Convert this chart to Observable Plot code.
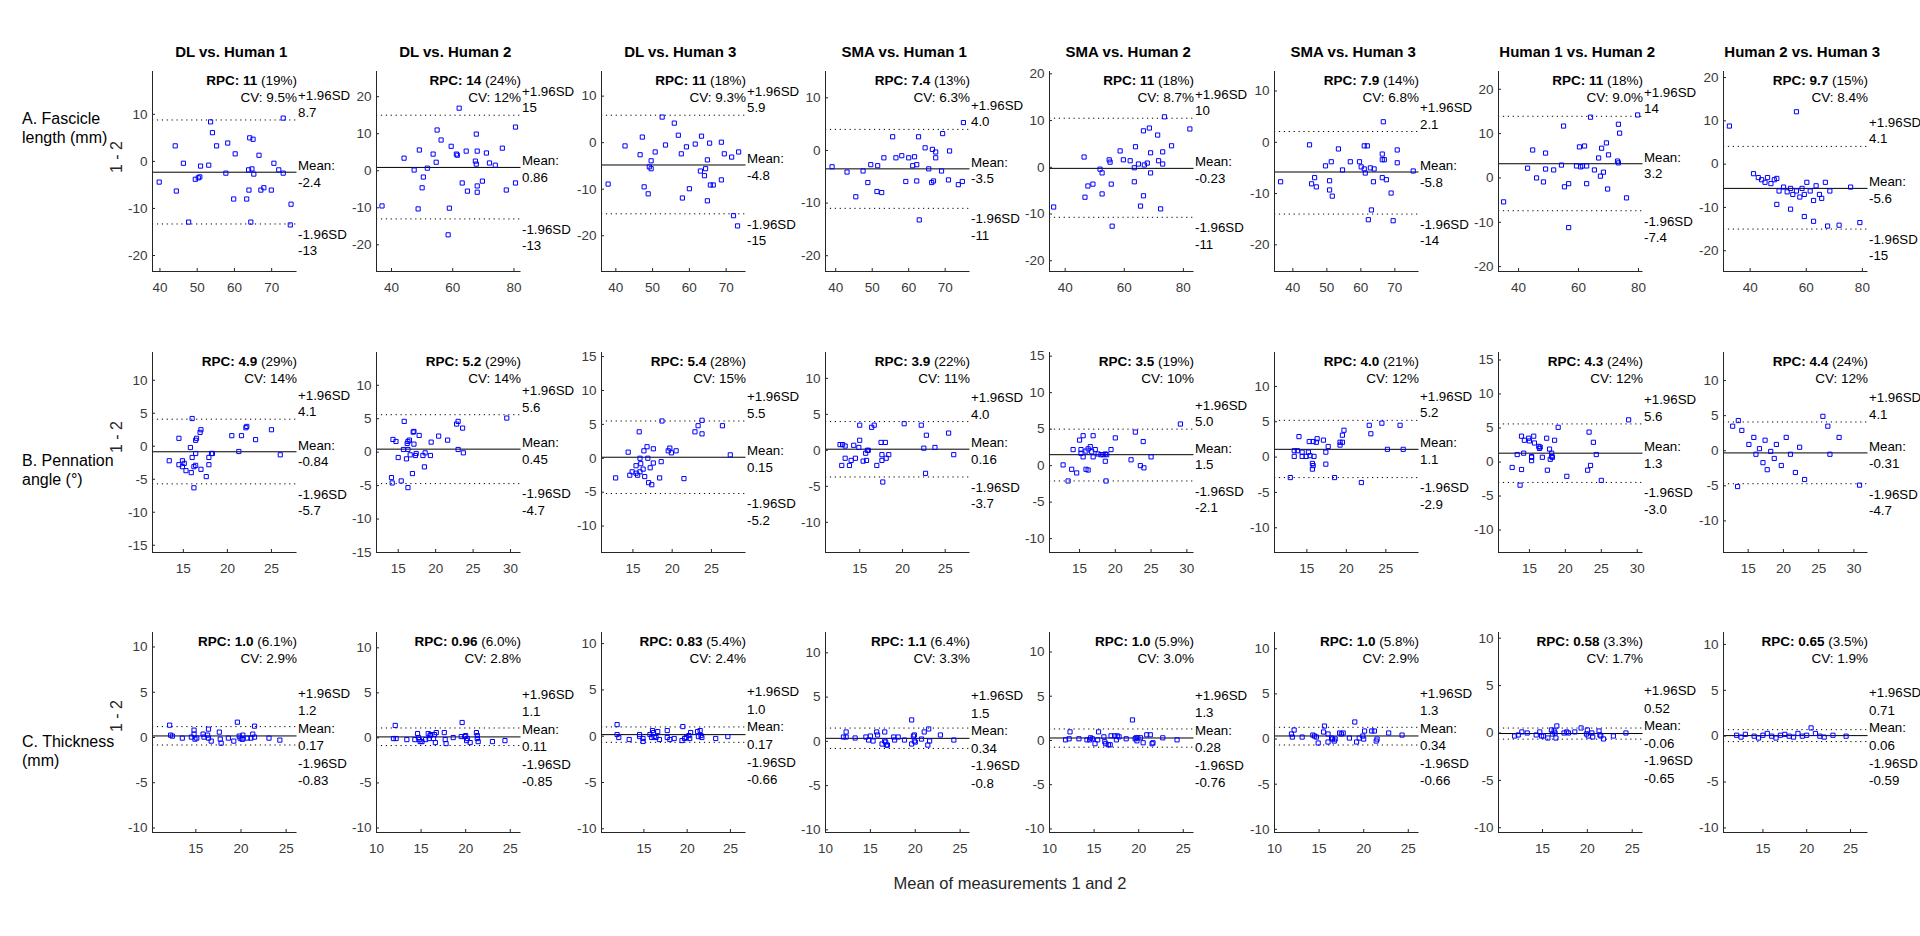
<!DOCTYPE html>
<html>
<head>
<meta charset="utf-8">
<script src="https://cdn.jsdelivr.net/npm/d3@7"></script>
<script src="https://cdn.jsdelivr.net/npm/@observablehq/plot@0.6"></script>
<style>
  body { margin: 0; background: #fff; }
  #fig { position: relative; width: 1920px; height: 936px; overflow: hidden; background: #fff;
         font-family: "Liberation Sans", Arial, Helvetica, sans-serif; }
  .lbl { position: absolute; white-space: nowrap; color: #000; }
</style>
</head>
<body>
<div id="fig"></div>
<script>
const FONT = '"Liberation Sans", Arial, Helvetica, sans-serif';

// ---------- text ----------
const comparisons = ["DL vs. Human 1", "DL vs. Human 2", "DL vs. Human 3", "SMA vs. Human 1",
                     "SMA vs. Human 2", "SMA vs. Human 3", "Human 1 vs. Human 2", "Human 2 vs. Human 3"];
const rowLabels = [["A. Fascicle", "length (mm)"], ["B. Pennation", "angle (°)"], ["C. Thickness", "(mm)"]];
const yLabel = "1 - 2";
const xLabel = "Mean of measurements 1 and 2";

const rpcText = [["11","14","11","7.4","11","7.9","11","9.7"],
                 ["4.9","5.2","5.4","3.9","3.5","4.0","4.3","4.4"],
                 ["1.0","0.96","0.83","1.1","1.0","1.0","0.58","0.65"]];
const rpcPct  = [["19%","24%","18%","13%","18%","14%","18%","15%"],
                 ["29%","29%","28%","22%","19%","21%","24%","24%"],
                 ["6.1%","6.0%","5.4%","6.4%","5.9%","5.8%","3.3%","3.5%"]];
const cvText  = [["9.5%","12%","9.3%","6.3%","8.7%","6.8%","9.0%","8.4%"],
                 ["14%","14%","15%","11%","10%","12%","12%","12%"],
                 ["2.9%","2.8%","2.4%","3.3%","3.0%","2.9%","1.7%","1.9%"]];
const upperLabel = [["8.7","15","5.9","4.0","10","2.1","14","4.1"],
                    ["4.1","5.6","5.5","4.0","5.0","5.2","5.6","4.1"],
                    ["1.2","1.1","1.0","1.5","1.3","1.3","0.52","0.71"]];
const meanLabel  = [["-2.4","0.86","-4.8","-3.5","-0.23","-5.8","3.2","-5.6"],
                    ["-0.84","0.45","0.15","0.16","1.5","1.1","1.3","-0.31"],
                    ["0.17","0.11","0.17","0.34","0.28","0.34","-0.06","0.06"]];
const lowerLabel = [["-13","-13","-15","-11","-11","-14","-7.4","-15"],
                    ["-5.7","-4.7","-5.2","-3.7","-2.1","-2.9","-3.0","-4.7"],
                    ["-0.83","-0.85","-0.66","-0.8","-0.76","-0.66","-0.65","-0.59"]];

// ---------- limits of agreement (values) ----------
const upperValue = [[8.8,15.0,5.9,4.0,10.5,2.1,13.9,4.1],
                    [4.1,5.6,5.5,4.0,5.0,5.2,5.6,4.1],
                    [1.2,1.1,1.0,1.5,1.3,1.3,0.52,0.71]];
const meanValue  = [[-2.3,0.9,-4.8,-3.5,-0.23,-5.8,3.2,-5.6],
                    [-0.84,0.45,0.15,0.16,1.5,1.1,1.3,-0.31],
                    [0.17,0.11,0.17,0.34,0.28,0.34,-0.06,0.06]];
const lowerValue = [[-13.3,-13.0,-15.3,-11,-10.7,-14.0,-7.4,-15],
                    [-5.7,-4.7,-5.2,-3.7,-2.1,-2.9,-3.0,-4.7],
                    [-0.83,-0.85,-0.66,-0.8,-0.76,-0.66,-0.65,-0.59]];

// ---------- axes ----------
const xDomains = [
  [[38.0,76.8],[35.1,82.3],[36.1,75.4],[37.2,76.8],[34.7,83.6],[34.6,77.1],[33.3,81.5],[30.5,82.0]],
  [[11.5,27.9],[12.1,31.4],[11.0,29.4],[11.0,27.9],[10.8,31.0],[10.9,29.2],[10.7,30.8],[11.5,32.0]],
  [[10.2,26.2],[10.0,26.2],[10.1,26.8],[10.0,26.1],[10.0,26.2],[10.0,26.2],[10.1,26.2],[10.5,27.0]]];
const yDomains = [
  [[-23.4,19.1],[-27.2,26.8],[-27.7,15.3],[-23.0,15.0],[-22.3,20.5],[-25.2,13.8],[-21.1,24.0],[-24.8,21.4]],
  [[-16.1,14.2],[-15.0,14.9],[-13.9,15.6],[-14.2,13.6],[-11.9,15.5],[-13.5,14.8],[-13.3,16.1],[-14.5,14.0]],
  [[-10.5,11.6],[-10.5,11.7],[-10.4,11.2],[-10.3,12.3],[-10.4,12.2],[-10.35,11.8],[-10.5,10.6],[-10.5,11.3]]];
const xTicks = [
  [[40,50,60,70],[40,60,80],[40,50,60,70],[40,50,60,70],[40,60,80],[40,50,60,70],[40,60,80],[40,60,80]],
  [[15,20,25],[15,20,25,30],[15,20,25],[15,20,25],[15,20,25,30],[15,20,25],[15,20,25,30],[15,20,25,30]],
  [[15,20,25],[10,15,20,25],[15,20,25],[10,15,20,25],[10,15,20,25],[10,15,20,25],[15,20,25],[15,20,25]]];
const yTicksRow = [[-20,-10,0,10,20], [-15,-10,-5,0,5,10,15], [-10,-5,0,5,10]];

// ---------- data: [mean of measurements, difference] ----------
const faDLH1 = [[39.8,-4.4],[44.1,3.3],[44.4,-6.3],[46.3,-0.4],[47.7,-12.9],[49.5,-3.8],[50.3,-3.5],[50.7,-3.3],[50.9,-1.0],[53.1,-0.8],[53.6,8.4],[54.1,6.1],[55.2,3.3],[57.7,-2.5],[58.2,3.9],[59.8,-8.0],[60.2,1.6],[63.3,-8.0],[63.8,-1.8],[63.9,-6.1],[64.1,5.0],[64.4,-12.9],[64.7,-1.6],[65.0,4.7],[65.2,-2.7],[66.6,1.3],[67.1,-6.1],[67.9,-5.6],[69.9,-6.1],[70.6,-0.4],[71.9,-1.8],[73.1,9.2],[73.1,-2.5],[75.0,-13.5],[75.2,-9.1]];
const faDLH2 = [[36.9,-9.5],[44.1,3.4],[47.4,0.2],[48.7,-10.3],[49.1,5.6],[50.0,-4.6],[50.4,-1.7],[51.7,0.7],[53.6,4.5],[54.6,2.3],[54.9,11.0],[56.2,8.3],[58.5,-17.3],[58.9,-10.1],[59.5,6.6],[61.2,4.5],[61.5,4.2],[62.1,16.9],[63.1,-3.3],[64.4,5.3],[64.8,-5.5],[67.4,2.6],[67.7,1.8],[67.7,9.9],[68.0,-4.1],[68.0,-5.8],[68.0,5.3],[69.7,-2.8],[71.0,4.8],[72.0,2.1],[73.9,1.5],[76.2,6.1],[77.5,-5.2],[80.5,11.8],[80.5,-3.3]];
const faDLH3 = [[37.9,-8.9],[42.5,-0.7],[46.6,-2.6],[47.2,1.2],[47.7,-9.5],[48.8,-11.0],[49.1,-5.2],[49.6,-3.9],[49.6,-5.6],[50.7,-2.0],[52.6,5.5],[53.5,-0.5],[55.9,4.2],[57.0,1.6],[57.8,-2.4],[58.1,-11.9],[59.2,-0.9],[60.0,-9.9],[61.6,-0.3],[63.0,-6.1],[63.3,1.4],[64.1,-7.1],[64.4,-5.6],[64.9,-3.7],[64.9,-12.5],[65.5,-0.1],[65.7,-9.1],[66.5,-9.1],[68.7,0.1],[68.7,-8.0],[69.5,-2.4],[71.5,-3.1],[72.0,-15.7],[73.1,-17.9],[73.4,-2.0]];
const faSMAH1 = [[39.0,-3.1],[43.1,-4.1],[45.5,-8.8],[47.5,-3.9],[48.8,-6.1],[49.6,-2.7],[51.3,-7.8],[51.5,-2.9],[52.6,-8.0],[53.2,-1.4],[55.6,2.6],[56.5,-1.4],[58.1,-1.0],[59.2,-5.9],[60.0,-1.4],[61.1,-2.9],[61.6,-1.2],[62.2,-5.8],[62.2,-2.7],[62.7,2.6],[62.9,-13.2],[64.5,0.5],[65.5,-3.5],[66.3,-6.1],[66.5,0.2],[66.8,-5.8],[67.4,-0.3],[67.4,-1.4],[69.0,-3.9],[69.3,3.2],[70.9,-5.6],[71.2,-0.1],[73.6,-6.5],[74.7,-5.9],[75.0,5.3]];
const faSMAH2 = [[36.1,-8.5],[46.4,2.2],[46.7,-6.4],[47.7,-4.0],[49.4,-3.6],[51.8,-0.4],[52.5,-1.2],[52.5,-5.7],[54.9,1.6],[55.2,1.1],[55.6,-3.6],[55.9,-12.6],[58.6,3.5],[59.7,1.6],[62.0,1.4],[63.4,-0.1],[63.4,-3.1],[63.8,4.4],[64.8,0.7],[65.5,-8.3],[66.5,7.8],[66.5,-6.1],[66.8,0.5],[67.8,0.9],[68.5,8.4],[68.9,3.1],[68.9,-1.2],[71.3,6.9],[71.6,1.4],[72.3,-8.9],[73.0,3.3],[73.0,0.7],[73.6,10.8],[76.0,4.6],[82.2,8.2]];
const faSMAH3 = [[36.4,-7.7],[44.9,-0.5],[45.5,-8.1],[46.4,-6.9],[46.9,-8.7],[49.6,-4.6],[50.8,-7.5],[50.8,-9.3],[51.3,-3.8],[51.6,-10.5],[53.4,-1.3],[54.6,-5.4],[56.9,-3.8],[59.6,-3.8],[60.1,-4.8],[61.0,-5.2],[61.0,-0.7],[61.3,-6.0],[61.9,-0.7],[62.8,-5.0],[63.1,-13.2],[62.2,-15.1],[63.7,-7.7],[63.9,-5.2],[66.3,-2.3],[66.3,-3.4],[66.6,4.0],[66.3,-6.9],[66.9,-3.4],[67.5,-7.3],[68.9,-9.9],[69.5,-15.3],[70.7,-1.5],[70.7,-4.0],[75.4,-5.6]];
const faH1H2 = [[35.0,-5.4],[43.0,2.2],[44.7,6.3],[46.0,0.0],[48.3,-0.9],[49.0,5.6],[49.0,2.0],[51.7,1.8],[54.3,2.9],[55.0,11.7],[55.3,-2.0],[56.7,-1.3],[56.7,-11.2],[59.3,2.7],[60.3,7.0],[60.7,2.5],[61.3,2.7],[62.0,7.2],[62.7,2.7],[62.7,-1.3],[64.0,13.7],[65.3,1.8],[66.7,4.5],[67.3,0.4],[67.7,6.7],[68.3,1.3],[69.3,7.9],[69.7,-2.5],[70.0,5.2],[73.0,3.8],[73.3,3.4],[73.3,12.1],[73.7,10.1],[76.0,-4.5],[79.7,14.2]];
const faH2H3 = [[32.6,8.8],[56.5,12.1],[41.2,-2.2],[42.9,-3.1],[44.1,-3.6],[45.3,-4.2],[46.2,-3.1],[47.4,-4.5],[48.6,-3.6],[49.5,-3.3],[50.3,-6.2],[51.9,-5.3],[53.2,-6.4],[54.4,-5.6],[55.2,-7.0],[56.5,-6.2],[57.7,-7.6],[58.5,-5.6],[59.3,-7.0],[60.2,-4.2],[61.4,-6.2],[62.6,-8.4],[63.5,-5.0],[64.7,-7.0],[65.5,-7.9],[66.8,-4.2],[68.4,-6.2],[49.5,-9.3],[54.4,-10.4],[59.3,-12.1],[62.6,-13.2],[67.6,-14.3],[71.7,-14.1],[79.1,-13.5],[75.8,-5.3]];

const paDLH1 = [[13.4,-2.2],[14.5,1.2],[14.5,-2.8],[14.9,-2.2],[14.9,-3.1],[15.1,-2.6],[15.3,-3.7],[15.8,-0.2],[15.9,-4.0],[16.0,4.2],[16.0,-1.7],[16.2,-6.3],[16.2,-3.1],[16.4,0.9],[16.4,-1.1],[16.4,-2.9],[16.5,1.2],[16.9,2.1],[17.0,2.5],[17.0,-3.5],[17.6,-4.6],[17.9,-1.7],[17.9,-2.8],[18.2,-1.1],[18.3,-1.1],[20.5,1.6],[21.6,1.6],[21.3,-0.8],[22.1,2.8],[22.2,3.0],[23.2,1.0],[25.0,2.5],[26.0,-1.3]];
const paDLH2 = [[14.1,-3.8],[14.2,-4.6],[14.3,1.9],[14.7,1.6],[15.0,-0.8],[15.4,-4.3],[15.7,0.4],[15.8,4.6],[16.1,-1.0],[16.2,1.3],[16.3,1.6],[16.3,0.4],[16.3,-5.3],[16.5,1.8],[16.6,-0.4],[16.9,-3.2],[17.0,3.0],[17.1,3.1],[17.1,1.2],[17.3,-0.5],[17.4,-0.2],[17.8,2.5],[18.3,-0.5],[18.5,-2.2],[18.6,-0.1],[19.3,-0.5],[19.4,1.5],[20.4,2.4],[21.6,1.8],[22.8,4.2],[23.0,4.6],[23.0,0.4],[23.6,3.6],[23.7,-0.1],[29.5,5.1]];
const paDLH3 = [[12.8,-2.9],[14.4,0.9],[14.6,-2.5],[14.9,-2.0],[15.4,-2.2],[15.4,-1.1],[15.6,-2.5],[15.8,3.9],[15.9,0.0],[15.9,-2.0],[16.0,-0.8],[16.3,-1.6],[16.4,1.1],[16.5,-2.7],[16.8,1.7],[16.9,0.0],[17.0,-3.6],[17.2,-1.4],[17.4,-3.9],[17.6,1.4],[17.6,-0.7],[18.4,-2.9],[18.6,-0.5],[18.7,5.5],[19.5,1.1],[19.7,1.5],[19.9,0.8],[20.5,1.1],[21.5,-3.0],[22.9,3.9],[23.3,4.8],[23.8,5.6],[23.8,3.6],[26.4,4.8],[27.4,0.5]];
const paSMAH1 = [[12.7,0.8],[13.0,0.8],[12.9,-2.1],[13.3,0.6],[13.3,-1.1],[13.8,-2.1],[14.0,-1.4],[14.3,0.7],[14.5,-1.1],[14.9,0.4],[15.0,3.5],[15.0,1.4],[15.4,-1.5],[15.7,-0.4],[15.8,-1.4],[15.9,0.0],[16.0,0.0],[16.4,3.2],[16.7,3.5],[17.0,-2.1],[17.5,1.1],[17.6,-1.4],[17.6,-0.6],[17.7,-4.4],[18.0,1.1],[18.1,-1.1],[18.4,-0.6],[20.2,3.7],[22.2,3.5],[22.5,0.3],[22.7,-3.2],[22.8,2.1],[23.8,0.4],[25.4,2.4],[26.0,-0.6]];
const paSMAH2 = [[12.7,0.1],[13.4,-2.1],[13.9,-0.5],[14.1,2.2],[14.6,-1.0],[15.0,3.5],[15.2,2.2],[15.2,1.7],[15.5,4.1],[15.5,1.2],[15.9,-0.5],[15.9,2.0],[16.2,-0.6],[16.2,2.3],[16.5,2.6],[16.7,1.9],[16.9,4.1],[16.9,1.2],[17.2,2.2],[17.6,1.6],[18.0,1.5],[18.3,1.5],[18.6,0.6],[18.6,1.6],[18.7,-2.1],[18.8,1.5],[19.4,2.2],[20.0,3.8],[22.2,0.8],[22.8,4.6],[23.5,0.0],[23.9,3.3],[24.0,-0.3],[25.0,1.2],[29.1,5.7]];
const paSMAH3 = [[12.9,-2.9],[13.4,0.1],[13.4,0.9],[13.8,0.9],[14.0,2.9],[14.4,0.7],[14.4,0.1],[14.9,0.1],[15.2,0.7],[15.3,2.2],[15.4,0.2],[15.7,-0.9],[15.7,-1.7],[15.8,2.2],[15.8,-1.2],[15.9,0.1],[16.2,2.1],[16.3,2.6],[17.1,2.4],[17.4,0.7],[17.4,-1.0],[17.7,1.5],[18.5,-2.9],[19.2,1.7],[19.2,2.1],[19.5,2.1],[19.5,3.1],[19.7,3.8],[21.9,-3.6],[22.9,4.5],[23.1,3.3],[24.5,4.8],[25.2,1.1],[26.8,4.5],[27.2,1.1]];
const paH1H2 = [[12.6,-0.8],[13.3,1.1],[13.9,3.8],[13.9,-1.1],[13.7,-3.4],[14.2,1.3],[14.3,3.2],[14.9,3.5],[15.0,3.1],[15.3,0.7],[15.3,0.2],[15.3,0.8],[15.6,3.8],[15.7,2.8],[16.3,2.3],[16.4,2.0],[16.5,2.2],[16.8,0.7],[17.4,3.5],[17.5,-1.2],[17.8,1.9],[17.9,0.4],[18.1,0.8],[18.1,1.3],[18.2,0.7],[18.5,3.2],[19.0,5.1],[20.2,-2.1],[23.1,-1.2],[23.3,4.4],[23.5,-0.5],[23.9,2.9],[24.3,1.1],[25.0,-2.7],[28.8,6.2]];
const paH2H3 = [[12.8,3.5],[13.6,4.3],[14.1,2.9],[13.5,-5.1],[15.1,0.9],[15.8,1.9],[16.1,-0.5],[16.6,0.3],[17.1,-1.7],[17.4,1.5],[17.7,-2.7],[18.2,-0.1],[18.7,-1.1],[19.0,0.9],[19.7,-2.1],[20.4,1.9],[21.0,-0.5],[21.7,-3.1],[22.3,0.5],[23.0,-4.1],[25.6,4.9],[26.3,3.5],[26.6,-0.5],[27.9,1.9],[30.8,-4.9]];

const thDLH1 = [[12.1,1.36],[12.2,0.26],[12.4,0.15],[13.5,-0.07],[14.5,0.04],[14.8,0.81],[14.8,0.37],[14.9,-0.18],[15.1,-0.07],[15.8,0.37],[15.9,0.04],[16.3,0.26],[16.4,0.92],[16.4,-0.07],[16.7,-0.40],[17.6,0.59],[17.7,-0.18],[17.8,-0.63],[18.6,-0.07],[19.2,-0.40],[19.6,1.69],[19.8,0.15],[19.9,-0.07],[20.1,-0.18],[20.2,0.26],[20.2,-0.18],[20.7,-0.07],[21.1,-0.07],[21.3,0.37],[21.5,1.25],[21.5,0.04],[23.1,-0.07],[24.3,-0.29]];
const thDLH2 = [[11.9,-0.07],[12.1,1.38],[12.2,-0.07],[13.4,-0.19],[14.3,-0.19],[14.6,0.48],[14.7,0.04],[14.8,-0.19],[14.9,-0.41],[15.1,-0.41],[15.5,-0.19],[15.8,0.48],[15.9,-0.07],[16.0,0.26],[16.1,0.37],[16.4,-0.07],[16.5,0.37],[16.6,-0.52],[16.7,0.59],[17.6,0.59],[17.7,-0.19],[17.8,-0.63],[18.6,0.04],[19.5,0.15],[19.6,1.71],[19.9,0.15],[20.0,0.26],[20.1,-0.30],[20.2,-0.07],[20.5,-0.52],[21.2,0.59],[21.3,-0.07],[21.4,-0.41],[21.3,0.26],[23.0,-0.41],[24.4,-0.30]];
const thDLH3 = [[11.9,1.25],[11.9,0.18],[12.1,-0.14],[13.3,-0.36],[14.5,0.18],[14.5,-0.04],[14.9,-0.25],[14.9,-0.57],[15.7,0.18],[15.9,-0.14],[16.0,0.61],[16.1,0.39],[16.2,-0.04],[16.4,-0.14],[16.6,0.50],[16.8,-0.36],[17.7,0.61],[17.7,-0.14],[18.0,-0.36],[18.5,-0.25],[19.4,-0.47],[19.5,1.04],[19.7,-0.25],[19.9,-0.14],[20.2,0.07],[20.3,-0.25],[20.4,0.39],[21.2,0.50],[21.3,-0.04],[21.5,0.61],[21.6,0.07],[21.7,-0.14],[23.3,-0.25],[24.7,-0.04]];
const thSMAH1 = [[12.0,0.49],[12.3,1.06],[12.3,0.49],[13.3,0.38],[14.5,0.49],[14.8,0.15],[15.0,0.60],[15.3,0.04],[15.7,1.06],[15.8,0.72],[16.3,-0.30],[16.6,0.04],[16.6,1.06],[16.7,-0.08],[16.8,-0.42],[16.9,-0.42],[17.6,0.49],[17.7,0.15],[18.1,0.49],[18.8,0.15],[19.6,2.42],[19.6,-0.30],[19.8,0.60],[19.9,0.72],[19.9,0.04],[20.0,-0.08],[20.7,0.26],[21.0,1.06],[21.5,1.40],[21.4,-0.42],[21.6,0.04],[22.8,0.72],[24.3,0.15]];
const thSMAH2 = [[11.8,0.07],[12.2,0.19],[12.3,0.97],[13.3,0.19],[14.2,0.07],[14.5,0.07],[14.6,0.30],[14.8,0.19],[15.1,-0.37],[15.4,0.07],[15.5,0.97],[16.1,0.41],[16.2,-0.15],[16.3,-0.37],[16.6,-0.49],[16.8,-0.49],[16.9,0.52],[17.3,0.52],[17.5,0.07],[17.6,0.52],[17.8,0.41],[18.6,0.19],[19.3,2.32],[19.6,0.19],[19.7,0.30],[19.8,-0.04],[19.9,0.30],[20.2,0.30],[20.5,-0.26],[20.9,0.64],[21.3,0.64],[21.5,-0.37],[21.6,-0.26],[22.7,0.30],[24.3,0.07]];
const thSMAH3 = [[11.9,0.56],[12.0,0.22],[12.2,1.0],[13.1,0.22],[14.3,0.44],[14.5,0.33],[14.7,0.22],[14.9,-0.44],[15.5,0.78],[15.6,1.44],[16.0,0.56],[16.0,-0.33],[16.4,0.11],[16.5,0.0],[16.7,-0.22],[16.8,0.0],[17.3,0.67],[17.5,0.56],[17.7,0.67],[18.4,0.11],[19.0,1.89],[19.2,-0.33],[19.5,0.11],[19.9,0.33],[20.0,0.0],[20.1,0.89],[20.9,0.89],[21.2,0.89],[21.4,-0.22],[21.5,0.0],[22.8,0.67],[24.3,0.44]];
const thH1H2 = [[11.9,-0.32],[12.3,-0.21],[12.7,0.11],[13.3,0.0],[14.3,-0.21],[14.7,0.11],[14.9,-0.32],[15.1,-0.32],[15.6,-0.53],[16.0,0.32],[16.1,-0.11],[16.3,0.21],[16.4,0.0],[16.5,-0.53],[16.6,0.74],[17.4,0.0],[17.7,0.11],[17.9,0.0],[18.6,0.11],[19.3,0.53],[19.9,-0.11],[20.0,0.32],[20.1,-0.32],[20.5,0.0],[20.6,-0.42],[21.3,0.21],[21.4,-0.21],[21.5,-0.32],[21.8,-0.63],[22.9,-0.32],[24.3,0.0]];
const thH2H3 = [[12.0,0.1],[12.5,-0.1],[13.0,0.2],[14.0,0.0],[14.5,-0.2],[15.0,0.1],[15.5,0.3],[16.0,0.0],[16.5,-0.2],[17.0,0.1],[17.5,0.2],[18.0,0.0],[18.5,-0.1],[19.0,0.3],[19.5,0.0],[20.0,0.1],[20.5,0.9],[21.0,0.3],[21.5,0.0],[22.0,-0.1],[23.0,0.1],[24.5,0.0]];

const panelData = [
  [faDLH1, faDLH2, faDLH3, faSMAH1, faSMAH2, faSMAH3, faH1H2, faH2H3],
  [paDLH1, paDLH2, paDLH3, paSMAH1, paSMAH2, paSMAH3, paH1H2, paH2H3],
  [thDLH1, thDLH2, thDLH3, thSMAH1, thSMAH2, thSMAH3, thH1H2, thH2H3]];

// ---------- layout ----------
const LEFT0 = 151.7, STEP = 224.4, PW = 144.5, PH = 200;
const ROWTOP = [70.7, 351.7, 631.7];
const ML = 46, MR = 64, MT = 34, MB = 34;
const AXIS = "#262626";
const TICKTEXT = "#3a3a3a";

const fig = document.getElementById("fig");

function makePanel(r, c) {
  const xd = xDomains[r][c], yd = yDomains[r][c];
  const yt = yTicksRow[r].filter(v => v >= yd[0] && v <= yd[1]);
  const up = upperValue[r][c], mn = meanValue[r][c], lo = lowerValue[r][c];
  const yPix = d3.scaleLinear(yd, [MT + PH, MT]);
  const stacked = yPix(lo) - yPix(up) < 40;
  const lab = {fontSize: 13.3, fill: "#000", frameAnchor: "right", textAnchor: "start",
               dx: 1, lineHeight: 1.25, text: d => d.t, y: d => d.v};
  const sdMarks = stacked
    ? [Plot.text([{v: mn, t: ["+1.96SD", upperLabel[r][c], "Mean:", meanLabel[r][c], "-1.96SD", lowerLabel[r][c]].join("\n")}],
                 {...lab, lineAnchor: "middle", lineHeight: 1.32, dy: 0})]
    : [Plot.text([{v: up, t: "+1.96SD\n" + upperLabel[r][c]}], {...lab, lineAnchor: "bottom", dy: -3}),
       Plot.text([{v: mn, t: "Mean:\n" + meanLabel[r][c]}], {...lab, lineAnchor: "middle", dy: 1}),
       Plot.text([{v: lo, t: "-1.96SD\n" + lowerLabel[r][c]}], {...lab, lineAnchor: "top", dy: 3})];
  const titleMarks = r === 0
    ? [Plot.text([comparisons[c]], {text: d => d, frameAnchor: "top", dy: -19, dx: 6.5, lineAnchor: "middle",
                                    fontWeight: "bold", fontSize: 15, fill: "#000"})]
    : [];

  const svg = Plot.plot({
    width: ML + PW + MR, height: MT + PH + MB,
    marginLeft: ML, marginRight: MR, marginTop: MT, marginBottom: MB,
    x: {domain: xd, label: null},
    y: {domain: yd, label: null},
    style: {fontFamily: FONT, fontSize: "13.5px", color: AXIS, background: "transparent", overflow: "visible"},
    marks: [
      Plot.ruleY([up, lo], {stroke: "#000", strokeWidth: 1, strokeDasharray: "1.2,3.7"}),
      Plot.ruleY([mn], {stroke: "#000", strokeWidth: 1}),
      Plot.dot(panelData[r][c], {x: d => d[0], y: d => d[1], symbol: "square", r: 2.35,
                                 stroke: "#0000ff", fill: "none", strokeWidth: 1}),
      Plot.ruleX([xd[0]], {stroke: AXIS}),
      Plot.ruleY([yd[0]], {stroke: AXIS}),
      Plot.tickX(xTicks[r][c], {x: d => d, insetTop: PH - 3, stroke: AXIS}),
      Plot.tickY(yt, {y: d => d, insetRight: PW - 3, stroke: AXIS}),
      Plot.axisX(xTicks[r][c], {tickSize: 0, tickPadding: 11, tickFormat: d => String(d), fontSize: 13.5,
                                label: null, fill: TICKTEXT}),
      Plot.axisY(yt, {tickSize: 0, tickPadding: 5, tickFormat: d => String(d), fontSize: 13.5,
                      label: null, fill: TICKTEXT}),
      ...titleMarks,
      Plot.text([`RPC: ${rpcText[r][c]} (${rpcPct[r][c]})`], {text: d => d, frameAnchor: "top-right", dy: 9.3,
                                   lineAnchor: "middle", textAnchor: "end", fontSize: 13.5, fill: "#000"}),
      Plot.text([`CV: ${cvText[r][c]}`], {text: d => d, frameAnchor: "top-right", dy: 26,
                                   lineAnchor: "middle", textAnchor: "end", fontSize: 13.5, fill: "#000"}),
      ...sdMarks
    ]
  });
  // bold "RPC: value" part
  d3.select(svg).selectAll("text").each(function () {
    const t = this.textContent;
    if (t.startsWith("RPC:") && this.childElementCount === 0) {
      const m = t.match(/^(RPC: \S+)(.*)$/);
      this.textContent = "";
      d3.select(this).append("tspan").attr("font-weight", "bold").text(m[1]);
      d3.select(this).append("tspan").text(m[2]);
    }
  });
  svg.style.position = "absolute";
  svg.style.left = (LEFT0 + STEP * c - ML) + "px";
  svg.style.top = (ROWTOP[r] - MT) + "px";
  svg.style.maxWidth = "none";
  fig.appendChild(svg);
}

for (let r = 0; r < 3; r++) for (let c = 0; c < 8; c++) makePanel(r, c);

// row labels and y labels
const rowLabelY = [128, 470, 751];
const yLabelY = [157, 437, 716];
rowLabels.forEach((lines, r) => {
  const d = document.createElement("div");
  d.className = "lbl";
  d.style.left = "22px";
  d.style.top = rowLabelY[r] + "px";
  d.style.transform = "translateY(-50%)";
  d.style.fontSize = "16px";
  d.style.lineHeight = "19px";
  d.innerHTML = lines.join("<br>");
  fig.appendChild(d);
  const y = document.createElement("div");
  y.className = "lbl";
  y.style.left = "117px";
  y.style.top = yLabelY[r] + "px";
  y.style.fontSize = "16px";
  y.style.color = AXIS;
  y.style.transform = "translate(-50%, -50%) rotate(-90deg)";
  y.textContent = yLabel;
  fig.appendChild(y);
});
const xl = document.createElement("div");
xl.className = "lbl";
xl.style.left = "1010px";
xl.style.top = "883px";
xl.style.fontSize = "16.5px";
xl.style.color = AXIS;
xl.style.transform = "translate(-50%, -50%)";
xl.textContent = xLabel;
fig.appendChild(xl);
</script>
</body>
</html>
